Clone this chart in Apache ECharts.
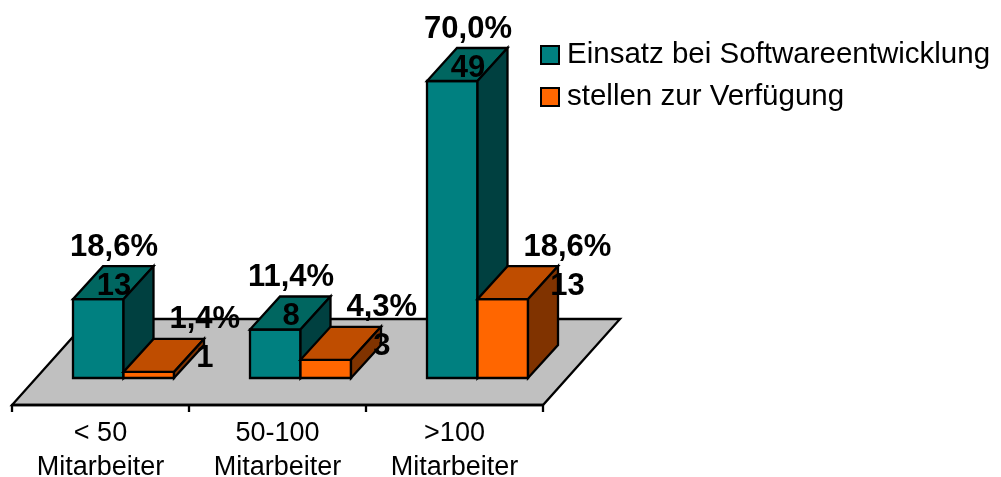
<!DOCTYPE html>
<html>
<head>
<meta charset="utf-8">
<style>
  html, body { margin: 0; padding: 0; background: #fff; }
  #chart { width: 1001px; height: 477px; }
</style>
<script src="https://cdn.jsdelivr.net/npm/echarts@6/dist/echarts.min.js"></script>
</head>
<body>
<div id="chart"></div>
<script>
// Daten
var categories = ['< 50\nMitarbeiter', '50-100\nMitarbeiter', '>100\nMitarbeiter'];
var einsatzValues = [13, 8, 49];
var stellenValues = [1, 3, 13];
var einsatzPercent = ['18,6%', '11,4%', '70,0%'];
var stellenPercent = ['1,4%', '4,3%', '18,6%'];

var FONT = '"Liberation Sans", Arial, sans-serif';
var LABEL_FONT = 'bold 31px ' + FONT;
var LINE_W = 2.3;
var BAR_W = 50.5;
var DEPTH_X = 30;
var DEPTH_Y = 33;
// Balken stehen mitten auf der Bodenplatte
var SHIFT_X = 23;
var AXIS_OFFSET = 27;

function poly(points, fill) {
  return {
    type: 'polygon',
    shape: { points: points },
    style: { fill: fill, stroke: '#000', lineWidth: LINE_W, lineJoin: 'miter' }
  };
}

function text(str, x, y, align) {
  return {
    type: 'text',
    style: {
      text: str, x: x, y: y, fill: '#000', font: LABEL_FONT,
      textAlign: align, textVerticalAlign: 'middle'
    }
  };
}

// 3D Balken: Vorderseite, Dach, Seite, dazu beide Beschriftungen
function barRenderer(offset, colors, percents, isOrange) {
  return function (params, api) {
    var idx = api.value(0);
    var top = api.coord([idx, api.value(1)]);
    var base = api.coord([idx, 0]);
    var l = top[0] + SHIFT_X + offset;
    var r = l + BAR_W;
    var t = top[1];
    var b = base[1];
    var percent = percents[params.dataIndex];
    var labelX = l + 41;
    if (isOrange) {
      labelX = l + 46 + echarts.format.getTextRect(percent, LABEL_FONT).width / 2;
    }
    return {
      type: 'group',
      children: [
        poly([[l, b], [r, b], [r, t], [l, t]], colors[0]),
        poly([[l, t], [r, t], [r + DEPTH_X, t - DEPTH_Y], [l + DEPTH_X, t - DEPTH_Y]], colors[1]),
        poly([[r, b], [r + DEPTH_X, b - DEPTH_Y], [r + DEPTH_X, t - DEPTH_Y], [r, t]], colors[2]),
        text(percent, labelX, t - DEPTH_Y - 19, 'center'),
        text(String(api.value(1)), labelX, t - DEPTH_Y + 20, 'center')
      ]
    };
  };
}

// Bodenplatte, an der Kategorieachse ausgerichtet
function floorRenderer(params, api) {
  var half = api.size([1, 0])[0] / 2;
  var first = api.coord([0, 0]);
  var last = api.coord([categories.length - 1, 0]);
  var y = first[1] + AXIS_OFFSET;
  var l = first[0] - half;
  var r = last[0] + half;
  return {
    type: 'polygon',
    shape: { points: [[l, y], [r, y], [r + 77, y - 86], [l + 77, y - 86]] },
    style: { fill: '#C0C0C0', stroke: '#000', lineWidth: LINE_W }
  };
}

function pairs(values) {
  return values.map(function (v, i) { return [i, v]; });
}

var myEcharts = echarts.init(document.getElementById('chart'));
myEcharts.setOption({
  animation: false,
  textStyle: { fontFamily: FONT },
  grid: { left: 12, width: 531, top: 81, height: 297, outerBoundsMode: 'none' },
  legend: {
    data: ['Einsatz bei Softwareentwicklung', 'stellen zur Verfügung'],
    orient: 'vertical',
    left: 535,
    top: 35,
    icon: 'rect',
    itemWidth: 18,
    itemHeight: 18,
    itemGap: 12,
    textStyle: { fontSize: 29.5, color: '#000', fontFamily: FONT, padding: [6, 0, 0, 3] }
  },
  xAxis: {
    type: 'category',
    data: categories,
    offset: AXIS_OFFSET,
    z: 5,
    axisLine: { onZero: false, lineStyle: { color: '#000', width: LINE_W } },
    axisTick: { show: true, length: 7, lineStyle: { color: '#000', width: LINE_W } },
    axisLabel: { color: '#000', fontSize: 27, lineHeight: 34, margin: 12, interval: 0 }
  },
  yAxis: { type: 'value', min: 0, max: 49, show: false },
  series: [
    {
      type: 'custom',
      name: 'Boden',
      silent: true,
      clip: false,
      renderItem: floorRenderer,
      data: [[0, 0]],
      encode: { x: 0, y: 1 }
    },
    {
      type: 'custom',
      name: 'Einsatz bei Softwareentwicklung',
      clip: false,
      itemStyle: { color: '#008080', borderColor: '#000', borderWidth: LINE_W },
      renderItem: barRenderer(-BAR_W, ['#008080', '#006660', '#004040'], einsatzPercent, false),
      data: pairs(einsatzValues),
      encode: { x: 0, y: 1 }
    },
    {
      type: 'custom',
      name: 'stellen zur Verfügung',
      clip: false,
      itemStyle: { color: '#FF6600', borderColor: '#000', borderWidth: LINE_W },
      renderItem: barRenderer(0, ['#FF6600', '#BF4D00', '#803300'], stellenPercent, true),
      data: pairs(stellenValues),
      encode: { x: 0, y: 1 }
    }
  ]
});
</script>
</body>
</html>
